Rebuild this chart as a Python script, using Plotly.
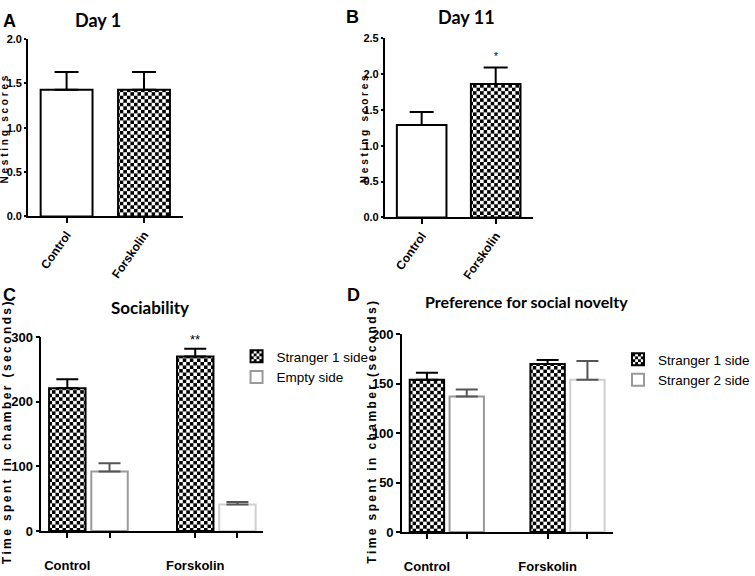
import plotly.graph_objects as go

W, H = 755, 576

# nesting scores, panels A (day 1) and B (day 11)
nest_groups = ["Control", "Forskolin"]
day1_mean = [1.43, 1.43]
day1_sem = [0.20, 0.20]
day11_mean = [1.29, 1.86]
day11_sem = [0.18, 0.23]
nest_ticks = [0.0, 0.5, 1.0, 1.5, 2.0, 2.5]

# three-chamber test, panels C (sociability) and D (social novelty)
chamber_groups = ["Control", "Forskolin"]
soc_stranger1 = [221, 270]
soc_stranger1_sem = [14, 12]
soc_empty = [92, 41]
soc_empty_sem = [13, 4]
nov_stranger1 = [154, 170]
nov_stranger1_sem = [7, 4]
nov_stranger2 = [137, 154]
nov_stranger2_sem = [7, 19]

SANS = "Liberation Sans, Arial, sans-serif"
TICK_FONT = dict(family=SANS, size=13, color="black", weight="bold")
TITLE_FONT = dict(family="Lato, Open Sans, sans-serif", size=18, color="black",
                  weight="bold")
CHECK = dict(shape="x", fgcolor="black", bgcolor="white", size=5, solidity=0.5)

# plotly has no checkerboard fill, so the "x" pattern tiles are redrawn as checks;
# the page margin is also dropped so the figure fills the window exactly
PAGE_JS = """
document.documentElement.style.margin = '0';
document.body.style.margin = '0';
document.body.style.overflow = 'hidden';
var ns = 'http://www.w3.org/2000/svg';
document.querySelectorAll('pattern').forEach(function(p) {
    var s = parseFloat(p.getAttribute('width')), h = s / 2;
    while (p.firstChild) { p.removeChild(p.firstChild); }
    [[0, 0, s, 'white'], [0, 0, h, 'black'], [h, h, h, 'black']].forEach(function(r) {
        var e = document.createElementNS(ns, 'rect');
        e.setAttribute('x', r[0]); e.setAttribute('y', r[1]);
        e.setAttribute('width', r[2]); e.setAttribute('height', r[2]);
        e.setAttribute('fill', r[3]);
        p.appendChild(e);
    });
});
"""


def xdom(left, right):
    return [left / W, right / W]


def ydom(top, bottom):
    return [1 - bottom / H, 1 - top / H]


def px(x, y):
    return dict(x=x / W, y=1 - y / H, xref="paper", yref="paper",
                xanchor="center", yanchor="middle", showarrow=False)


def err(vals, width, color="black"):
    return dict(type="data", array=vals, arrayminus=[0] * len(vals),
                symmetric=False, color=color, thickness=2, width=width)


fig = go.Figure()

# A and B
for mean, sem, xa, ya in [(day1_mean, day1_sem, "x", "y"),
                          (day11_mean, day11_sem, "x2", "y2")]:
    fig.add_trace(go.Bar(
        x=nest_groups, y=mean, error_y=err(sem, 12),
        marker=dict(color="white", line=dict(color="black", width=2),
                    pattern=dict(CHECK, shape=["", "x"])),
        xaxis=xa, yaxis=ya, showlegend=False, width=0.67))

# C and D: bar positions within each group
off = 0.33
g_pos = list(range(len(chamber_groups)))
first_pos = [g for g in g_pos]
second_pos = [g + off for g in g_pos]

panels = [
    ("x3", "y3", "legend", soc_stranger1, soc_stranger1_sem, "Stranger 1 side",
     soc_empty, soc_empty_sem, "Empty side"),
    ("x4", "y4", "legend2", nov_stranger1, nov_stranger1_sem, "Stranger 1 side",
     nov_stranger2, nov_stranger2_sem, "Stranger 2 side"),
]
for xa, ya, lg, v1, e1, n1, v2, e2, n2 in panels:
    fig.add_trace(go.Bar(
        x=first_pos, y=v1, name=n1, error_y=err(e1, 11), width=0.285,
        marker=dict(color="white", line=dict(color="black", width=2), pattern=CHECK),
        xaxis=xa, yaxis=ya, legend=lg))
    fig.add_trace(go.Bar(
        x=second_pos, y=v2, name=n2, error_y=err(e2, 11, "#555555"), width=0.285,
        marker=dict(color="white", line=dict(color=["#9a9a9a", "#cfcfcf"], width=2)),
        xaxis=xa, yaxis=ya, legend=lg))

axis_common = dict(showline=True, linecolor="black", linewidth=1.5, ticks="outside",
                   tickcolor="black", tickwidth=1.5, showgrid=False, zeroline=False,
                   tickfont=TICK_FONT)
legend_font = dict(family=SANS, size=13.5, color="black")
nest_tickfont = dict(TICK_FONT, size=11)

fig.update_layout(
    width=W, height=H, margin=dict(l=0, r=0, t=0, b=0),
    paper_bgcolor="white", plot_bgcolor="white", barmode="overlay",
    xaxis=dict(axis_common, domain=xdom(29, 190), anchor="y", range=[-0.5, 1.5],
               tickangle=-55, ticklen=5, tickfont=dict(TICK_FONT, size=12)),
    yaxis=dict(axis_common, domain=ydom(33, 215), anchor="x", range=[0, 2],
               tickvals=nest_ticks[:5], ticktext=["%.1f" % t for t in nest_ticks[:5]],
               ticklen=2, tickfont=nest_tickfont),
    xaxis2=dict(axis_common, domain=xdom(400, 554), anchor="y2", range=[-0.5, 1.5],
                tickangle=-55, ticklen=5, tickfont=dict(TICK_FONT, size=12)),
    yaxis2=dict(axis_common, domain=ydom(32, 216), anchor="x2", range=[0, 2.5],
                tickvals=nest_ticks, ticktext=["%.1f" % t for t in nest_ticks],
                ticklen=2, tickfont=nest_tickfont),
    xaxis3=dict(axis_common, domain=xdom(43, 273), anchor="y3", range=[-0.203, 1.526],
                tickvals=first_pos + second_pos, ticktext=chamber_groups + ["", ""],
                ticklen=5, ticklabelstandoff=17),
    yaxis3=dict(axis_common, domain=ydom(339, 538), anchor="x3", range=[0, 300],
                dtick=100, ticklen=4),
    xaxis4=dict(axis_common, domain=xdom(418, 637), anchor="y4", range=[-0.207, 1.538],
                tickvals=first_pos + second_pos, ticktext=chamber_groups + ["", ""],
                ticklen=5, ticklabelstandoff=17),
    yaxis4=dict(axis_common, domain=ydom(336, 539), anchor="x4", range=[0, 200],
                dtick=50, ticklen=4),
    legend=dict(x=246 / W, y=1 - 343 / H, xanchor="left", yanchor="top",
                bgcolor="rgba(0,0,0,0)", tracegroupgap=0, font=legend_font),
    legend2=dict(x=643 / W, y=1 - 346 / H, xanchor="left", yanchor="top",
                 bgcolor="rgba(0,0,0,0)", tracegroupgap=0, font=legend_font),
)

ann = []
# panel letters
for txt, x, y in [("A", 10, 14), ("B", 367, 10), ("C", 10, 296), ("D", 368, 296)]:
    ann.append(dict(px(x, y), text=txt,
                    font=dict(family=SANS, size=18, color="black", weight="bold")))
# panel titles
for txt, x, y, size in [("Day 1", 102, 13, 18), ("Day 11", 485, 10, 18),
                        ("Sociability", 156, 309, 17),
                        ("Preference for social novelty", 548, 302, 16)]:
    ann.append(dict(px(x, y), text=txt, font=dict(TITLE_FONT, size=size)))
# y axis titles
nest_title = "   ".join(" ".join(w) for w in "Nesting scores".split())
time_title = "\u2009".join("Time spent in chamber (seconds)")
for txt, x, y, size in [(nest_title, 5, 126, 10), (nest_title, 379, 125, 10),
                        (time_title, 7, 437, 12), (time_title, 386, 437, 12)]:
    ann.append(dict(px(x, y), text=txt, textangle=-90,
                    font=dict(family=SANS, size=size, color="black", weight="bold")))
# significance marks
ann.append(dict(text="*", x=nest_groups[1], y=day11_mean[1] + day11_sem[1],
                xref="x2", yref="y2", yanchor="bottom", yshift=4, showarrow=False,
                font=dict(family=SANS, size=10, color="black")))
ann.append(dict(text="**", x=first_pos[1], y=soc_stranger1[1] + soc_stranger1_sem[1],
                xref="x3", yref="y3", yanchor="bottom", yshift=0, showarrow=False,
                font=dict(family=SANS, size=13, color="black")))
fig.update_layout(annotations=ann)

fig.write_html("out.html", post_script=PAGE_JS, config={"displayModeBar": False})
